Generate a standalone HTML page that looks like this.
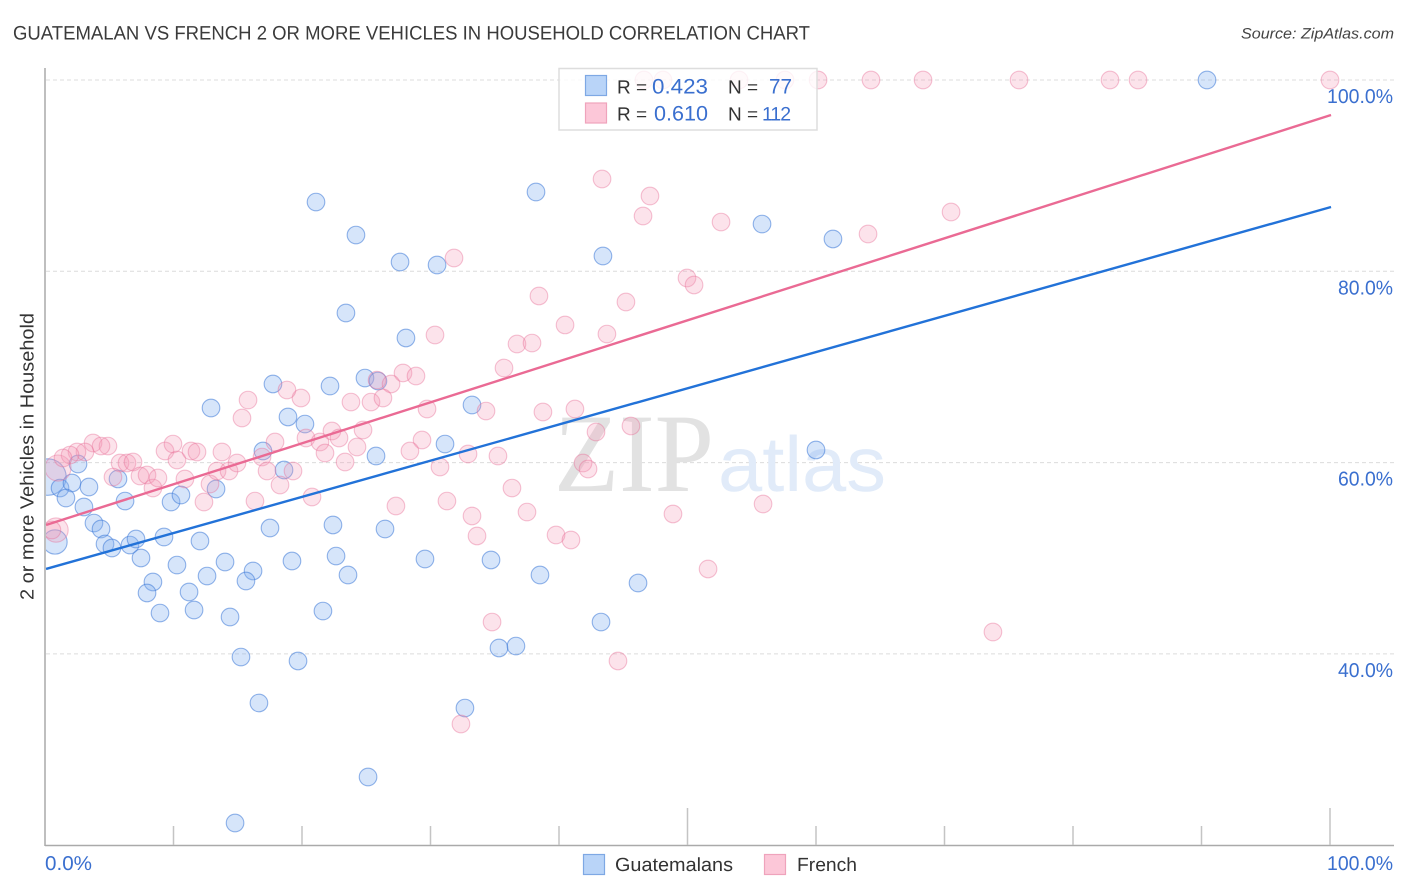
<!DOCTYPE html>
<html lang="en">
<head>
<meta charset="utf-8">
<title>Guatemalan vs French 2 or more vehicles in household correlation chart</title>
<style>
html,body{margin:0;padding:0;background:#fff;width:1406px;height:892px;overflow:hidden}
svg{display:block}
text{font-family:"Liberation Sans",sans-serif;text-rendering:geometricPrecision}
</style>
</head>
<body>
<svg id="chart" xmlns="http://www.w3.org/2000/svg" width="1406" height="892" viewBox="0 0 1406 892">
  <defs>
    <clipPath id="plot-clip"><rect x="46" y="60" width="1350" height="785"/></clipPath>
  </defs>
  <rect x="0" y="0" width="1406" height="892" fill="#fff"/>
  <text x="13" y="39.5" font-size="19.5" fill="#3a3a3a" textLength="797" lengthAdjust="spacingAndGlyphs">GUATEMALAN VS FRENCH 2 OR MORE VEHICLES IN HOUSEHOLD CORRELATION CHART</text>
  <text x="1394" y="38.5" font-size="15" font-style="italic" fill="#444" text-anchor="end" textLength="153" lengthAdjust="spacingAndGlyphs">Source: ZipAtlas.com</text>
  <g id="grid"></g>
  <g>
    <text x="554" y="491" font-size="112" fill="#e2e2e2" style="font-family:'Liberation Serif',serif" textLength="160" lengthAdjust="spacingAndGlyphs">ZIP</text>
    <text x="718" y="491" font-size="78" fill="#e1ebf9" textLength="168" lengthAdjust="spacingAndGlyphs">atlas</text>
  </g>
  <g id="points" clip-path="url(#plot-clip)"></g>
  <g id="trends"></g>
  <line x1="45" y1="68" x2="45" y2="846" stroke="#aaa" stroke-width="1.5"/>
  <line x1="45" y1="845.5" x2="1394" y2="845.5" stroke="#aaa" stroke-width="1.5"/>
  <g id="ticks"></g>
  <text transform="translate(33.5,456.5) rotate(-90)" font-size="19" fill="#333" text-anchor="middle" textLength="287" lengthAdjust="spacingAndGlyphs">2 or more Vehicles in Household</text>
  <g>
    <rect x="559" y="68.5" width="258" height="61.5" fill="#fff" fill-opacity="0.8" stroke="#ddd" stroke-width="1.5"/>
    <rect x="585.5" y="75.5" width="21" height="20" fill="#b9d4f8" stroke="#7ea8e4" stroke-width="1.2"/>
    <rect x="585.5" y="103" width="21" height="20" fill="#fcc7d8" stroke="#efa3bc" stroke-width="1.2"/>
    <text x="617" y="93.5" font-size="19" fill="#333">R =</text>
    <text x="652" y="93.5" font-size="21" fill="#3a6fcf" textLength="56" lengthAdjust="spacingAndGlyphs">0.423</text>
    <text x="728" y="93.5" font-size="19" fill="#333">N =</text>
    <text x="769" y="93.5" font-size="21" fill="#3a6fcf" textLength="23" lengthAdjust="spacingAndGlyphs">77</text>
    <text x="617" y="120.5" font-size="19" fill="#333">R =</text>
    <text x="654" y="120.5" font-size="21" fill="#3a6fcf" textLength="54" lengthAdjust="spacingAndGlyphs">0.610</text>
    <text x="728" y="120.5" font-size="19" fill="#333">N =</text>
    <text x="762" y="120.5" font-size="19.5" letter-spacing="-1" fill="#3a6fcf">112</text>
  </g>
  <g>
    <rect x="583.5" y="854.5" width="21" height="20" fill="#b9d4f8" stroke="#7ea8e4" stroke-width="1.2"/>
    <text x="615" y="871" font-size="19" fill="#333" textLength="118" lengthAdjust="spacingAndGlyphs">Guatemalans</text>
    <rect x="764.5" y="854.5" width="21" height="20" fill="#fcc7d8" stroke="#efa3bc" stroke-width="1.2"/>
    <text x="797" y="871" font-size="19" fill="#333" textLength="60" lengthAdjust="spacingAndGlyphs">French</text>
  </g>
</svg>
<script>
const yTickValues = [100, 80, 60, 40];
const yTickLabels = ["100.0%", "80.0%", "60.0%", "40.0%"];
const xTickValues = [0, 10, 20, 30, 40, 50, 60, 70, 80, 90, 100];
const xEndValues = [0, 100];
const xEndLabels = ["0.0%", "100.0%"];

const guatemalanX = [0.23,0.78,90.43,38.21,21.09,24.20,55.80,61.32,43.42,27.63,30.51,23.42,28.09,17.74,22.18,24.90,25.91,12.92,18.91,20.23,33.23,31.13,16.96,25.76,18.60,60.00,2.57,1.17,2.10,3.42,1.63,3.03,5.68,6.23,9.81,10.58,13.31,3.81,4.36,4.67,5.21,6.61,7.08,9.26,7.47,12.06,10.27,14.01,12.61,16.19,15.64,17.51,19.22,8.40,7.94,11.21,8.95,11.60,14.40,22.41,26.46,22.65,23.58,29.57,34.71,38.52,46.15,21.63,43.27,35.33,36.65,15.25,19.69,16.65,32.68,25.14,14.79];
const guatemalanY = [58.49,51.70,100,88.29,87.24,83.79,84.94,83.38,81.60,80.97,80.66,75.64,73.03,68.22,68.01,68.84,68.53,65.71,64.77,64.03,66.02,61.94,61.21,60.69,59.23,61.32,59.85,57.34,57.87,57.45,56.30,55.36,58.29,55.98,55.88,56.61,57.24,53.68,53.06,51.49,51.07,51.38,52.01,52.22,50.03,51.80,49.29,49.61,48.14,48.67,47.62,53.16,49.71,47.52,46.37,46.47,44.27,44.59,43.86,53.48,53.06,50.23,48.25,49.92,49.82,48.25,47.41,44.48,43.33,40.62,40.82,39.67,39.26,34.87,34.34,27.13,22.32];
const guatemalanWeight = [4.3, 1.9];

const frenchX = [1.01,0.86,0.54,3.74,4.90,4.36,3.11,2.49,1.95,1.40,5.84,6.38,6.85,5.29,7.39,7.94,8.40,8.79,9.34,9.96,10.27,11.36,11.83,13.77,10.89,12.84,13.39,14.32,14.94,12.37,16.34,17.90,16.89,17.28,18.29,19.30,20.78,20.31,21.40,22.33,22.88,21.79,23.35,24.28,24.75,23.81,25.37,25.84,19.92,18.83,15.80,15.33,30.35,36.73,37.90,43.73,40.47,35.72,27.86,28.87,26.93,26.30,29.73,34.32,38.75,41.24,45.60,42.88,29.34,28.40,32.92,35.25,41.87,42.26,30.74,36.34,27.31,31.28,33.23,37.51,33.62,39.77,40.93,46.61,48.09,54.01,57.59,60.16,64.28,68.33,75.80,82.88,85.06,100,43.35,47.08,46.54,52.61,70.51,64.05,31.83,38.44,45.21,49.96,50.51,51.60,48.87,55.88,73.77,34.79,44.59,32.37];
const frenchY = [59.43,52.95,52.95,62.05,61.73,61.73,61.11,61.11,60.79,60.48,59.96,59.96,60.06,58.49,58.60,58.70,57.34,58.39,61.21,61.94,60.27,61.21,61.11,61.11,58.29,57.76,59.12,59.12,59.96,55.88,55.98,62.15,60.58,59.12,57.66,59.12,56.40,62.57,62.15,63.30,62.57,61.00,60.06,61.63,63.41,66.33,66.33,68.63,66.75,67.59,66.54,64.66,73.34,72.40,72.50,73.44,74.39,69.89,69.37,69.05,68.22,66.75,65.60,65.39,65.29,65.60,63.83,63.20,62.36,61.21,60.90,60.69,59.96,59.33,59.54,57.34,55.46,55.98,54.42,54.83,52.33,52.43,51.91,100,100,100,100,100,100,100,100,100,100,100,89.65,87.87,85.78,85.15,86.20,83.90,81.39,77.42,76.79,79.30,78.57,48.88,54.63,55.67,42.29,43.33,39.26,32.67];
const frenchWeight = [2.2, 1.9];

const trendX = [0.08, 100.08];
const guatemalanTrendY = [48.88, 86.72];
const frenchTrendY = [53.48, 96.34];

const NS = "http://www.w3.org/2000/svg";
function xScale(v) { return 45 + v * 12.85; }
function yScale(v) { return 80 + (100 - v) * 9.565; }

function make(parent, tag, attrs) {
  const el = document.createElementNS(NS, tag);
  for (const k in attrs) el.setAttribute(k, attrs[k]);
  parent.appendChild(el);
  return el;
}

const gridLayer = document.getElementById("grid");
const tickLayer = document.getElementById("ticks");
const pointLayer = document.getElementById("points");
const trendLayer = document.getElementById("trends");

yTickValues.forEach(function (v, i) {
  const line = make(gridLayer, "line", {x1: 46, x2: 1394, y1: yScale(v), y2: yScale(v), stroke: "#dcdcdc", "stroke-width": 1, "stroke-dasharray": "4 3"});
  
  
  const label = make(tickLayer, "text", {x: 1393, y: yScale(v) + 23, "font-size": 20, fill: "#3a6fcf", "text-anchor": "end", textLength: yTickLabels[i].length * 11, lengthAdjust: "spacingAndGlyphs"});
  label.textContent = yTickLabels[i];
  
  
});

xTickValues.forEach(function (v) {
  if (v === 0) return;
  const tall = v === 50 || v === 100;
  const tick = make(tickLayer, "line", {x1: xScale(v), x2: xScale(v), y1: tall ? 808 : 826, y2: 845, stroke: "#c4c4c4", "stroke-width": 1.5});
  
  
});

xEndValues.forEach(function (v, i) {
  const label = make(tickLayer, "text", {x: i === 0 ? xScale(v) : 1393, y: 870, "font-size": 20, fill: "#3a6fcf", "text-anchor": i === 0 ? "start" : "end", textLength: i === 0 ? 47 : 66, lengthAdjust: "spacingAndGlyphs"});
  label.textContent = xEndLabels[i];
  
  
});

function radius(weight, i) { return 8.8 * Math.sqrt(weight[i] || 1); }

guatemalanX.forEach(function (x, i) {
  const c = make(pointLayer, "circle", {cx: xScale(x), cy: yScale(guatemalanY[i]), r: radius(guatemalanWeight, i), fill: "rgba(130,175,240,0.33)", stroke: "rgba(60,120,215,0.55)", "stroke-width": 1.1});
  
  
});

frenchX.forEach(function (x, i) {
  const c = make(pointLayer, "circle", {cx: xScale(x), cy: yScale(frenchY[i]), r: radius(frenchWeight, i), fill: "rgba(245,150,180,0.27)", stroke: "rgba(230,110,150,0.42)", "stroke-width": 1.1});
  
  
});

const blueLine = make(trendLayer, "line", {x1: xScale(trendX[0]), x2: xScale(trendX[1]), y1: yScale(guatemalanTrendY[0]), y2: yScale(guatemalanTrendY[1]), stroke: "#2272d8", "stroke-width": 2.4});



const pinkLine = make(trendLayer, "line", {x1: xScale(trendX[0]), x2: xScale(trendX[1]), y1: yScale(frenchTrendY[0]), y2: yScale(frenchTrendY[1]), stroke: "#ea6a94", "stroke-width": 2.4});


</script>
</body>
</html>
